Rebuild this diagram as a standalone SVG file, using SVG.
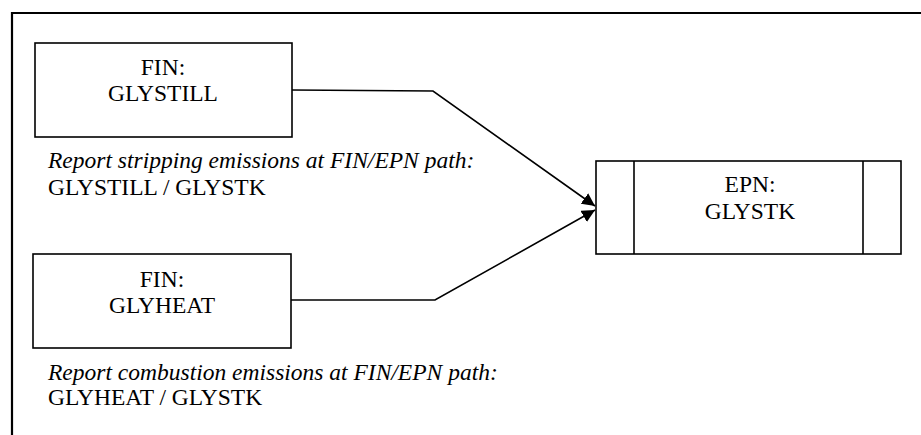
<svg xmlns="http://www.w3.org/2000/svg" width="921" height="435" viewBox="0 0 921 435">
<defs>
<style>
.box{fill:#fff;stroke:#000;stroke-width:1.6}
.t{font-family:'Liberation Serif','Times New Roman','DejaVu Serif',serif;font-size:23.5px;fill:#000}
.c{text-anchor:middle}
.i{font-style:italic}
.conn{fill:none;stroke:#000;stroke-width:1.6}
</style>
<marker id="ah" viewBox="0 0 10 10" refX="10" refY="5" markerWidth="13" markerHeight="13" markerUnits="userSpaceOnUse" orient="auto">
<path d="M0,0 L10,5 L0,10 z" fill="#000"/>
</marker>
</defs>
<rect width="921" height="435" fill="#fff"/>
<path d="M12,440 L12,13 L925,13" fill="none" stroke="#000" stroke-width="2.2"/>
<g id="connectors">
<polyline class="conn" points="292,90 433,91 595,206" marker-end="url(#ah)"/>
<polyline class="conn" points="291,300 435,300 595,210" marker-end="url(#ah)"/>
</g>
<g id="fin-glystill">
<rect class="box" x="35" y="43" width="257" height="94"/>
<text class="t c" x="163" y="75">FIN:</text>
<text class="t c" x="163" y="101">GLYSTILL</text>
</g>
<g id="fin-glyheat">
<rect class="box" x="33" y="254" width="258" height="94"/>
<text class="t c" x="162" y="287">FIN:</text>
<text class="t c" x="162" y="313">GLYHEAT</text>
</g>
<g id="epn-glystk">
<rect class="box" x="596" y="161" width="305" height="93"/>
<line class="box" x1="634" y1="161" x2="634" y2="254"/>
<line class="box" x1="863" y1="161" x2="863" y2="254"/>
<text class="t c" x="750" y="192">EPN:</text>
<text class="t c" x="750" y="219">GLYSTK</text>
</g>
<g id="note-stripping">
<text class="t i" x="48" y="168">Report stripping emissions at FIN/EPN path:</text>
<text class="t" x="48" y="195">GLYSTILL / GLYSTK</text>
</g>
<g id="note-combustion">
<text class="t i" x="48" y="380">Report combustion emissions at FIN/EPN path:</text>
<text class="t" x="48" y="405">GLYHEAT / GLYSTK</text>
</g>
</svg>
